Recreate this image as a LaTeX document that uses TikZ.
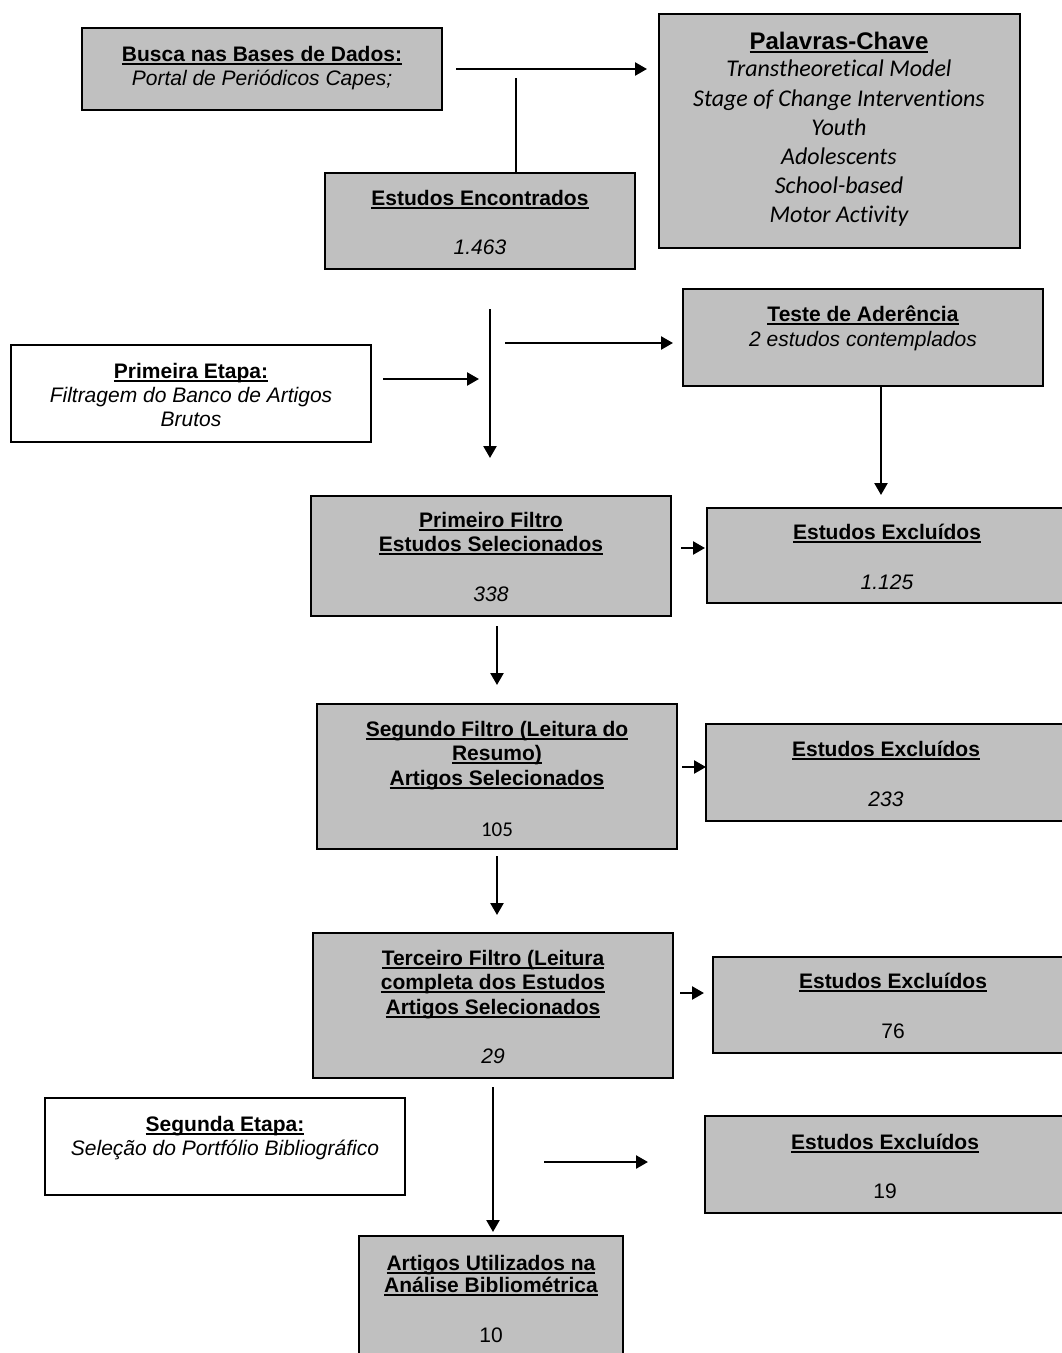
\documentclass[tikz,border=0pt]{standalone}
\usepackage{fontspec}
\setmainfont{Liberation Sans}
\newfontfamily\calib[Ligatures=NoCommon]{Carlito}
\usetikzlibrary{arrows.meta}
\definecolor{boxgray}{RGB}{192,192,192}
\newcommand\ulx[1]{\setbox0\hbox{#1}\rlap{\rule[-3.5pt]{\wd0}{1.8pt}}\box0}
\tikzset{
  gbox/.style={draw=black, line width=2.2pt, fill=boxgray, inner sep=0pt},
  wbox/.style={draw=black, line width=2.2pt, fill=white, inner sep=0pt},
  txt/.style={inner sep=0pt, anchor=base, font=\fontsize{21}{24}\selectfont},
  ttl/.style={txt, font=\fontsize{21}{24}\selectfont\bfseries},
  itx/.style={txt, font=\fontsize{21}{24}\selectfont\itshape},
  kw/.style={txt, font=\fontsize{24}{28}\selectfont\calib\itshape},
  arr/.style={line width=2.4pt, -{Triangle[length=12pt,width=13pt]}},
  ln/.style={line width=2.4pt}
}
\begin{document}
\begin{tikzpicture}[x=1pt,y=-1pt]
\useasboundingbox (0,0) rectangle (1062,1353);
% boxes
\node[gbox, minimum width=360pt, minimum height=82pt] (busca) at (262,69) {};
\node[gbox, minimum width=361pt, minimum height=234pt] (palavras) at (839.5,131) {};
\node[gbox, minimum width=310pt, minimum height=96pt] (enc) at (480,221) {};
\node[gbox, minimum width=360pt, minimum height=97pt] (teste) at (863,337.5) {};
\node[wbox, minimum width=360pt, minimum height=97pt] (prim) at (191,393.5) {};
\node[gbox, minimum width=360pt, minimum height=120pt] (pf) at (491,556) {};
\node[gbox, minimum width=360pt, minimum height=95pt] (ex1) at (887,555.5) {};
\node[gbox, minimum width=360pt, minimum height=145pt] (seg) at (497,776.5) {};
\node[gbox, minimum width=360pt, minimum height=97pt] (ex2) at (886,772.5) {};
\node[gbox, minimum width=360pt, minimum height=145pt] (ter) at (493,1005.5) {};
\node[gbox, minimum width=360pt, minimum height=96pt] (ex3) at (893,1005) {};
\node[wbox, minimum width=360pt, minimum height=97pt] (seg2) at (225,1146.5) {};
\node[gbox, minimum width=360pt, minimum height=97pt] (ex4) at (885,1164.5) {};
\node[gbox, minimum width=264pt, minimum height=134pt] (final) at (491,1303) {};
% texts
\node[ttl] (tb1) at (262,61) {\ulx{Busca nas Bases de Dados:}};
\node[itx] (tb2) at (262,85) {Portal de Periódicos Capes;};
\node[ttl, font=\fontsize{24}{28}\selectfont\bfseries] (tp0) at (839,49) {\ulx{Palavras-Chave}};
\node[kw] (tp1) at (839,76) {Transtheoretical Model};
\node[kw] (tp2) at (839,106) {Stage of Change Interventions};
\node[kw] (tp3) at (839,135) {Youth};
\node[kw] (tp4) at (839,164) {Adolescents};
\node[kw] (tp5) at (839,193) {School-based};
\node[kw] (tp6) at (839,222) {Motor Activity};
\node[ttl] (te1) at (480,205) {\ulx{Estudos Encontrados}};
\node[itx] (te2) at (480,254) {1.463};
\node[ttl] (tt1) at (863,321) {\ulx{Teste de Aderência}};
\node[itx] (tt2) at (863,346) {2 estudos contemplados};
\node[ttl] (tr1) at (191,378) {\ulx{Primeira Etapa:}};
\node[itx] (tr2) at (191,402) {Filtragem do Banco de Artigos};
\node[itx] (tr3) at (191,426) {Brutos};
\node[ttl] (tf1) at (491,527) {\ulx{Primeiro Filtro}};
\node[ttl] (tf2) at (491,551) {\ulx{Estudos Selecionados}};
\node[itx] (tf3) at (491,601) {338};
\node[ttl] (tx1) at (887,539) {\ulx{Estudos Excluídos}};
\node[itx] (tx2) at (887,589) {1.125};
\node[ttl] (ts1) at (497,736) {\ulx{Segundo Filtro (Leitura do}};
\node[ttl] (ts2) at (497,760) {\ulx{Resumo)}};
\node[ttl] (ts3) at (497,785) {\ulx{Artigos Selecionados}};
\node[txt, font=\fontsize{21}{24}\selectfont\calib] (ts4) at (497,836) {105};
\node[ttl] (ty1) at (886,756) {\ulx{Estudos Excluídos}};
\node[itx] (ty2) at (886,806) {233};
\node[ttl] (tg1) at (493,965) {\ulx{Terceiro Filtro (Leitura}};
\node[ttl] (tg2) at (493,989) {\ulx{completa dos Estudos}};
\node[ttl] (tg3) at (493,1014) {\ulx{Artigos Selecionados}};
\node[itx] (tg4) at (493,1063) {29};
\node[ttl] (tz1) at (893,988) {\ulx{Estudos Excluídos}};
\node[txt] (tz2) at (893,1038) {76};
\node[ttl] (tq1) at (225,1131) {\ulx{Segunda Etapa:}};
\node[itx] (tq2) at (225,1155) {Seleção do Portfólio Bibliográfico};
\node[ttl] (tw1) at (885,1149) {\ulx{Estudos Excluídos}};
\node[txt] (tw2) at (885,1198) {19};
\node[ttl] (tn1) at (491,1270) {\ulx{Artigos Utilizados na}};
\node[ttl] (tn2) at (491,1292) {\ulx{Análise Bibliométrica}};
\node[txt] (tn3) at (491,1342) {10};
% free connector ends
\coordinate (c1a) at (456,69);
\coordinate (c1b) at (647,69);
\coordinate (c2a) at (516,78);
\coordinate (c3a) at (490,309);
\coordinate (c3b) at (490,458);
\coordinate (c4a) at (383,379);
\coordinate (c4b) at (479,379);
\coordinate (c5a) at (505,343);
\coordinate (c5b) at (673,343);
\coordinate (c6a) at (881,386);
\coordinate (c6b) at (881,495);
\coordinate (c7a) at (681,548);
\coordinate (c7b) at (705,548);
\coordinate (c8a) at (497,626);
\coordinate (c8b) at (497,685);
\coordinate (c9a) at (682,767);
\coordinate (c9b) at (706,767);
\coordinate (c10a) at (497,856);
\coordinate (c10b) at (497,915);
\coordinate (c11a) at (680,993);
\coordinate (c11b) at (704,993);
\coordinate (c12a) at (493,1087);
\coordinate (c12b) at (493,1232);
\coordinate (c13a) at (544,1162);
\coordinate (c13b) at (648,1162);
% connectors
\draw[arr] (c1a) -- (c1b);
\draw[ln] (c2a) -- (c2a |- enc.north);
\draw[arr] (c3a) -- (c3b);
\draw[arr] (c4a) -- (c4b);
\draw[arr] (c5a) -- (c5b);
\draw[arr] (c6a) -- (c6b);
\draw[arr] (c7a) -- (c7b);
\draw[arr] (c8a) -- (c8b);
\draw[arr] (c9a) -- (c9b);
\draw[arr] (c10a) -- (c10b);
\draw[arr] (c11a) -- (c11b);
\draw[arr] (c12a) -- (c12b);
\draw[arr] (c13a) -- (c13b);
\end{tikzpicture}
\end{document}
